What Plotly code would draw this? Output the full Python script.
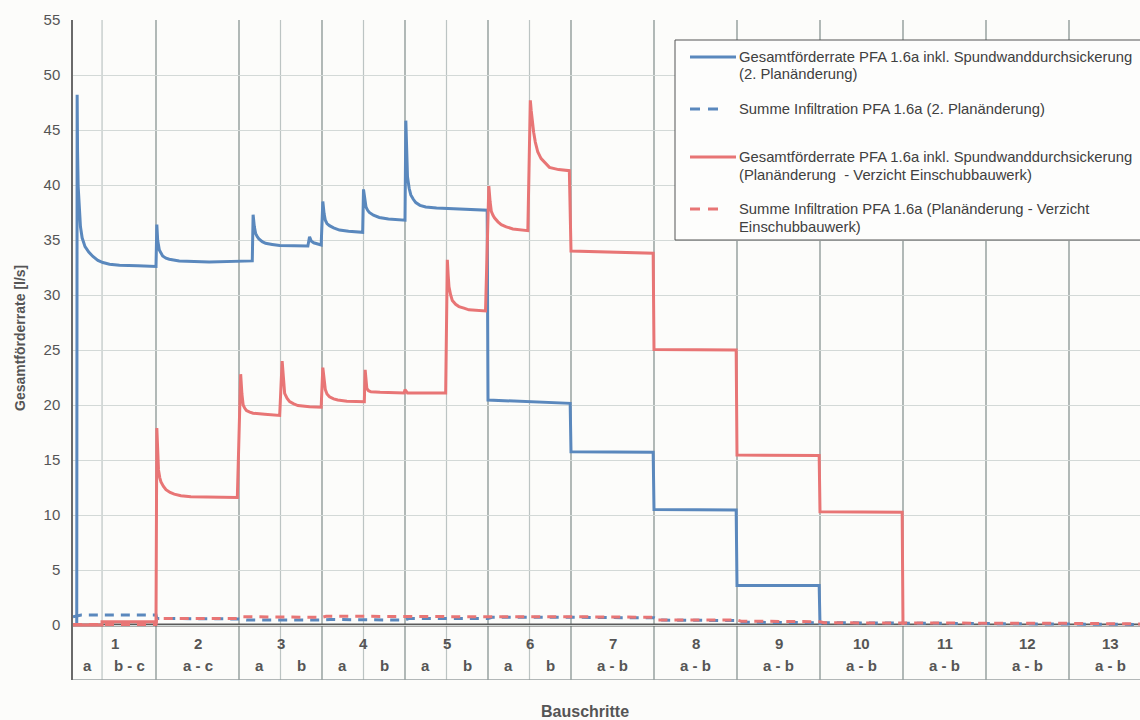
import plotly.graph_objects as go

# ---------------- data ----------------
steps = [str(i) for i in range(1, 14)]
sub_labels = [["a", "b - c"], ["a - c"], ["a", "b"], ["a", "b"], ["a", "b"], ["a", "b"],
              ["a - b"], ["a - b"], ["a - b"], ["a - b"], ["a - b"], ["a - b"], ["a - b"]]
sub_breaks = [[0.35], [], [0.5], [0.5], [0.5], [0.5], [], [], [], [], [], [], []]
y_ticks = list(range(0, 56, 5))

# Gesamtförderrate (2. Planänderung)
blue_total_x = [0.045, 0.05, 0.055, 0.062, 0.075, 0.09, 0.11, 0.145, 0.19, 0.24, 0.30, 0.36, 0.44, 0.56, 0.78, 1.0,
                1.01, 1.02, 1.04, 1.06, 1.08, 1.12, 1.16, 1.28, 1.64, 2.16,
                2.17, 2.185, 2.20, 2.22, 2.24, 2.28, 2.32, 2.40, 2.49, 2.83, 2.85, 2.87, 2.90, 2.99,
                3.01, 3.025, 3.04, 3.06, 3.09, 3.14, 3.21, 3.32, 3.45, 3.49,
                3.50, 3.515, 3.53, 3.55, 3.57, 3.62, 3.69, 3.80, 3.97, 4.0,
                4.01, 4.02, 4.03, 4.05, 4.07, 4.10, 4.13, 4.18, 4.25, 4.38, 4.53, 4.99,
                5.0, 5.5, 5.99, 6.0, 6.99, 7.0, 7.99, 8.0, 8.99, 9.0]
blue_total_y = [0.0, 48.2, 43.0, 39.9, 37.5, 36.2, 35.2, 34.4, 33.9, 33.5, 33.15, 32.95, 32.8, 32.7, 32.65, 32.6,
                36.4, 35.0, 34.1, 33.75, 33.55, 33.35, 33.25, 33.1, 33.0, 33.1,
                37.3, 36.2, 35.6, 35.3, 35.1, 34.85, 34.7, 34.6, 34.5, 34.45, 35.3, 34.9, 34.75, 34.55,
                38.5, 37.4, 36.8, 36.5, 36.3, 36.1, 35.9, 35.8, 35.7, 35.7,
                39.6, 38.6, 38.0, 37.7, 37.5, 37.25, 37.05, 36.9, 36.8, 36.8,
                45.85, 42.8, 40.75, 39.7, 39.1, 38.7, 38.4, 38.15, 38.0, 37.9, 37.85, 37.7,
                20.45, 20.3, 20.15, 15.75, 15.7, 10.5, 10.45, 3.6, 3.6, 0.0]

# Summe Infiltration (2. Planänderung)
blue_infil_x = [0.0, 0.1, 1.0, 1.01, 2.0, 2.1, 3.0, 3.1, 4.0, 4.05, 5.0, 5.05,
                6.0, 7.0, 7.05, 8.0, 8.05, 9.0, 10.0, 12.0, 12.86]
blue_infil_y = [0.75, 0.9, 0.9, 0.6, 0.55, 0.45, 0.45, 0.5, 0.45, 0.6, 0.6, 0.7,
                0.7, 0.65, 0.45, 0.4, 0.25, 0.2, 0.15, 0.1, 0.05]

# Gesamtförderrate (Planänderung - Verzicht Einschubbauwerk)
red_total_x = [0.0, 0.35, 0.35, 1.0,
               1.01, 1.02, 1.03, 1.045, 1.06, 1.09, 1.12, 1.17, 1.22, 1.30, 1.42, 1.98,
               2.02, 2.035, 2.05, 2.07, 2.09, 2.13, 2.17, 2.31, 2.49,
               2.52, 2.535, 2.55, 2.58, 2.61, 2.66, 2.71, 2.85, 2.99,
               3.01, 3.025, 3.04, 3.06, 3.09, 3.14, 3.19, 3.30, 3.47, 3.51,
               3.52, 3.53, 3.54, 3.56, 3.59, 3.70, 3.99, 4.0, 4.03, 4.49,
               4.51, 4.52, 4.53, 4.55, 4.57, 4.61, 4.65, 4.71, 4.77, 4.97,
               5.01, 5.025, 5.04, 5.06, 5.08, 5.12, 5.16, 5.22, 5.30, 5.48,
               5.51, 5.52, 5.53, 5.55, 5.57, 5.60, 5.64, 5.69, 5.74, 5.85, 5.98,
               6.0, 6.99, 7.0, 7.99, 8.0, 8.99, 9.0, 9.99, 10.0]
red_total_y = [0.0, 0.0, 0.3, 0.3,
               17.9, 15.5, 14.1, 13.4, 13.0, 12.6, 12.3, 12.05, 11.9, 11.75, 11.65, 11.6,
               22.8, 21.0, 20.0, 19.7, 19.5, 19.35, 19.25, 19.15, 19.05,
               24.0, 22.2, 21.05, 20.6, 20.3, 20.1, 19.95, 19.85, 19.8,
               23.4, 22.2, 21.4, 21.0, 20.75, 20.55, 20.45, 20.35, 20.3, 20.3,
               23.2, 22.2, 21.5, 21.3, 21.2, 21.15, 21.1, 21.4, 21.1, 21.1,
               33.2, 31.8, 30.75, 30.0, 29.5, 29.15, 28.95, 28.8, 28.65, 28.55,
               39.9, 38.5, 37.6, 37.25, 37.0, 36.65, 36.4, 36.2, 36.0, 35.85,
               47.7, 46.8, 45.9, 44.8, 43.9, 43.0, 42.4, 41.95, 41.6, 41.4, 41.3,
               34.0, 33.8, 25.05, 25.0, 15.45, 15.4, 10.3, 10.25, 0.0]

# Summe Infiltration (Planänderung - Verzicht Einschubbauwerk)
red_infil_x = [0.0, 1.0, 1.01, 2.0, 2.05, 3.0, 3.05, 4.0, 5.0, 6.0, 7.0, 7.05,
               8.0, 8.05, 9.0, 9.05, 10.0, 10.05, 12.0, 12.86]
red_infil_y = [0.05, 0.05, 0.6, 0.6, 0.75, 0.7, 0.8, 0.75, 0.75, 0.75, 0.7, 0.45,
               0.45, 0.35, 0.3, 0.2, 0.2, 0.15, 0.15, 0.1]

legend_lines = [
    ["Gesamtförderrate PFA 1.6a inkl. Spundwanddurchsickerung", "(2. Planänderung)"],
    ["Summe Infiltration PFA 1.6a (2. Planänderung)"],
    ["Gesamtförderrate PFA 1.6a inkl. Spundwanddurchsickerung", "(Planänderung  - Verzicht Einschubbauwerk)"],
    ["Summe Infiltration PFA 1.6a (Planänderung - Verzicht", "Einschubbauwerk)"],
]

# ---------------- style / layout ----------------
W, H = 1140, 720
L, T, R, B = 73, 20, 0, 40          # plot area: x 73..1140, y 20..680
STEP_PX = 83.0
X_MAX = (W - L - R) / STEP_PX
BLUE = "#5a88bd"
RED = "#e87575"
TXT = "#555555"
FONT = "Liberation Sans, Arial, sans-serif"
BG = "#fcfcfa"


def px2paper(px, py):
    return (px - L) / (W - L - R), (H - B - py) / (H - T - B)


fig = go.Figure()
series = [
    (blue_total_x, blue_total_y, BLUE, "solid", legend_lines[0]),
    (blue_infil_x, blue_infil_y, BLUE, "9px,7px", legend_lines[1]),
    (red_total_x, red_total_y, RED, "solid", legend_lines[2]),
    (red_infil_x, red_infil_y, RED, "9px,7px", legend_lines[3]),
]
for xs, ys, col, dash, name in series:
    fig.add_trace(go.Scatter(x=xs, y=ys, mode="lines", name=" ".join(name),
                             line=dict(color=col, width=3, dash=dash),
                             showlegend=False, hoverinfo="skip"))

shapes = []
for i in range(1, len(steps) + 1):
    if i < X_MAX:
        shapes.append(dict(type="line", xref="x", yref="y", x0=i, x1=i, y0=-5, y1=55.4,
                           line=dict(color="#9ea7a6", width=1.6), layer="below"))
for i, brks in enumerate(sub_breaks):
    for f in brks:
        shapes.append(dict(type="line", xref="x", yref="y", x0=i + f, x1=i + f, y0=-5, y1=55.4,
                           line=dict(color="#bcc4c3", width=1.2), layer="below"))
shapes.append(dict(type="line", xref="x", yref="y", x0=0, x1=X_MAX, y0=0, y1=0,
                   line=dict(color="#5a5a5a", width=3), layer="below"))
shapes.append(dict(type="line", xref="x", yref="y", x0=0, x1=X_MAX, y0=-5, y1=-5,
                   line=dict(color="#9aa1a1", width=1.5), layer="below"))

annotations = []
for i, s in enumerate(steps):
    annotations.append(dict(x=i + 0.5, y=-1.65, xref="x", yref="y", text="<b>%s</b>" % s,
                            xanchor="center", yanchor="middle",
                            showarrow=False, font=dict(family=FONT, size=15, color=TXT)))
    edges = [0.0] + sub_breaks[i] + [1.0]
    for j, lab in enumerate(sub_labels[i]):
        cx = i + (edges[j] + edges[j + 1]) / 2
        annotations.append(dict(x=cx, y=-3.65, xref="x", yref="y", text="<b>%s</b>" % lab,
                                xanchor="center", yanchor="middle",
                                showarrow=False, font=dict(family=FONT, size=15, color=TXT)))

ax_, ay_ = px2paper(20, 338)
annotations.append(dict(x=ax_, y=ay_, xref="paper", yref="paper", text="<b>Gesamtförderrate [l/s]</b>",
                        textangle=-90, xanchor="center", yanchor="middle", showarrow=False,
                        font=dict(family=FONT, size=14, color=TXT)))
bx_, by_ = px2paper(585, 711)
annotations.append(dict(x=bx_, y=by_, xref="paper", yref="paper", text="<b>Bauschritte</b>",
                        xanchor="center", yanchor="middle", showarrow=False,
                        font=dict(family=FONT, size=16, color=TXT)))

# manual legend
lx0, ly0 = px2paper(675, 40)
lx1, ly1 = px2paper(1142, 240)
shapes.append(dict(type="rect", xref="paper", yref="paper", x0=lx0, x1=lx1, y0=ly1, y1=ly0,
                   line=dict(color="#555555", width=1), fillcolor="#fdfdfc", layer="above"))
entry_y = [[57, 74], [109], [157, 175], [209, 227]]
entry_col = [BLUE, BLUE, RED, RED]
entry_dash = ["solid", "10px,8px", "solid", "10px,8px"]
for k in range(4):
    sx0, sy = px2paper(690, entry_y[k][0])
    sx1, _ = px2paper(736 if entry_dash[k] == "solid" else 720, entry_y[k][0])
    shapes.append(dict(type="line", xref="paper", yref="paper", x0=sx0, x1=sx1, y0=sy, y1=sy,
                       line=dict(color=entry_col[k], width=3, dash=entry_dash[k]), layer="above"))
    for line_text, yy in zip(legend_lines[k], entry_y[k]):
        tx, ty = px2paper(737, yy)
        annotations.append(dict(x=tx, y=ty, xref="paper", yref="paper", text=line_text,
                                xanchor="left", yanchor="middle", showarrow=False,
                                font=dict(family=FONT, size=14.8, color="#404040")))

fig.update_layout(
    width=W, height=H,
    margin=dict(l=L, r=R, t=T, b=B, pad=0),
    paper_bgcolor=BG, plot_bgcolor=BG,
    shapes=shapes, annotations=annotations,
    showlegend=False,
    font=dict(family=FONT, color=TXT),
)
fig.update_xaxes(range=[0, X_MAX], showgrid=False, showticklabels=False, zeroline=False,
                 showline=False, ticks="")
fig.update_yaxes(range=[-5, 55], tickvals=y_ticks, showgrid=True, gridcolor="#d3d9d7", gridwidth=1,
                 zeroline=False, showline=True, linecolor="#6a6a6a", linewidth=1.5, ticks="",
                 ticklabelstandoff=8, tickfont=dict(family=FONT, size=15, color=TXT))

fig.write_html("out.html", config={"displayModeBar": False},
               post_script="document.body.style.margin='0px';document.body.style.overflow='hidden';")
